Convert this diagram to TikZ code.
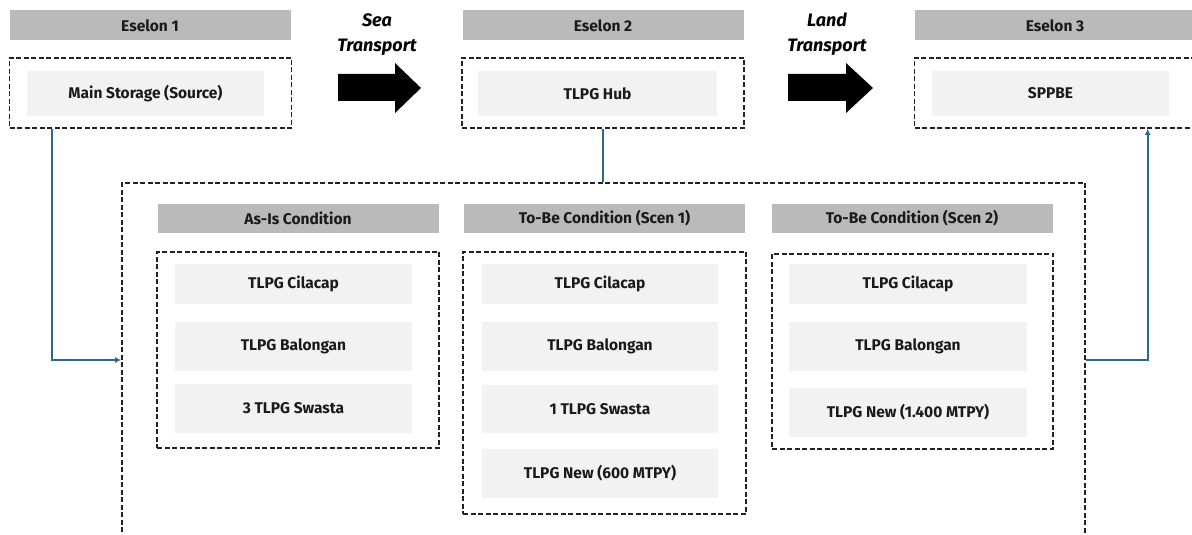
\documentclass[tikz,border=0pt]{standalone}
\usepackage{fontspec}
\setmainfont{Fira Sans}
\usetikzlibrary{arrows.meta, positioning}
\definecolor{header-fill}{HTML}{BABABA}
\definecolor{item-fill}{HTML}{F2F2F2}
\definecolor{frame-color}{HTML}{222222}
\definecolor{link-color}{HTML}{2B6A8E}
\definecolor{label-color}{HTML}{1A1A1A}
\tikzset{
  header-node/.style={
    fill=header-fill, minimum width=281pt, minimum height=30pt,
    inner sep=0pt, text=label-color, font=\fontsize{15.5}{18}\selectfont\bfseries
  },
  frame-node/.style={
    draw=frame-color, line width=1.6pt, dash pattern=on 5pt off 2.5pt,
    minimum width=282pt, inner sep=0pt
  },
  item-node/.style={
    fill=item-fill, minimum width=237pt, minimum height=49pt,
    inner sep=0pt, text=label-color, font=\fontsize{15.5}{18}\selectfont\bfseries
  },
  mode-label/.style={
    align=center, text=black, font=\fontsize{18}{25}\selectfont\bfseries\itshape
  },
  link/.style={line width=1.6pt, draw=link-color},
  flow/.style={link, -{Latex[length=6pt, width=6pt]}}
}

\begin{document}
\begin{tikzpicture}[x=1pt, y=1pt]
  \useasboundingbox (0,0) rectangle (1192,535);
  \clip (0,0) rectangle (1192,535);

  % three echelons along the top
  \node[header-node] (hdr1) at (150, 509.5)  {Eselon 1};
  \node[header-node] (hdr2) at (603, 509.5)  {Eselon 2};
  \node[header-node] (hdr3) at (1055, 509.5) {Eselon 3};

  \node[frame-node, minimum height=70pt] (box1) at (150.5, 442)  {};
  \node[frame-node, minimum height=70pt] (box2) at (603, 442)    {};
  \node[frame-node, minimum height=70pt] (box3) at (1055.5, 442) {};

  \node[item-node, minimum height=45pt] (source) at (145.5, 441.5)  {Main Storage (Source)};
  \node[item-node, minimum height=45pt, minimum width=239pt] (hub) at (597.5, 441.5) {TLPG Hub};
  \node[item-node, minimum height=45pt] (sppbe)  at (1050.5, 441.5) {SPPBE};

  % transport modes
  \node[mode-label] (sea)  at (377, 500.5) {Sea\\Transport};
  \node[mode-label] (land) at (827, 500.5) {Land\\Transport};
  \fill (338,461) -- (395,461) -- (395,472) -- (421,447) -- (395,422) -- (395,434) -- (338,434) -- cycle;
  \fill (788,461) -- (846,461) -- (846,472) -- (873,447) -- (846,422) -- (846,434) -- (788,434) -- cycle;

  % scenario panel
  \node[frame-node, minimum width=963pt, minimum height=377pt] (panel) at (603.5, 163.5) {};

  \node[header-node, minimum height=29pt] (asis)  at (298, 316.5)   {As-Is Condition};
  \node[header-node, minimum height=29pt] (scen1) at (604.5, 316.5) {To-Be Condition (Scen 1)};
  \node[header-node, minimum height=29pt] (scen2) at (912, 316.5)   {To-Be Condition (Scen 2)};

  \node[frame-node, minimum height=196pt] (asis-box)  at (298, 185)    {};
  \node[frame-node, minimum height=262pt, minimum width=283pt] (scen1-box) at (604.5, 152) {};
  \node[frame-node, minimum height=195pt, minimum width=281pt] (scen2-box) at (912.5, 183.5) {};

  \node[item-node, minimum height=40pt] (asis-a) at (293.5, 251)   {TLPG Cilacap};
  \node[item-node]                      (asis-b) at (293.5, 188.5) {TLPG Balongan};
  \node[item-node]                      (asis-c) at (293.5, 126.5) {3 TLPG Swasta};

  \node[item-node, minimum height=40pt, minimum width=236pt] (scen1-a) at (600, 251)   {TLPG Cilacap};
  \node[item-node, minimum width=236pt]                      (scen1-b) at (600, 188.5) {TLPG Balongan};
  \node[item-node, minimum width=236pt, minimum height=48pt] (scen1-c) at (600, 126)   {1 TLPG Swasta};
  \node[item-node, minimum width=236pt]                      (scen1-d) at (600, 61.5)  {TLPG New (600 MTPY)};

  \node[item-node, minimum height=40pt, minimum width=238pt] (scen2-a) at (908, 251)   {TLPG Cilacap};
  \node[item-node, minimum width=238pt]                      (scen2-b) at (908, 188.5) {TLPG Balongan};
  \node[item-node, minimum width=238pt]                      (scen2-c) at (908, 122.5) {TLPG New (1.400 MTPY)};

  % connectors
  \draw[flow] ([xshift=43pt]box1.south west) |- ([yshift=11.5pt]panel.west);
  \draw[link] (box2.south) -- (box2.south |- panel.north);
  \draw[flow] ([yshift=11.5pt]panel.east) -| ([xshift=234pt]box3.south west);
\end{tikzpicture}
\end{document}
